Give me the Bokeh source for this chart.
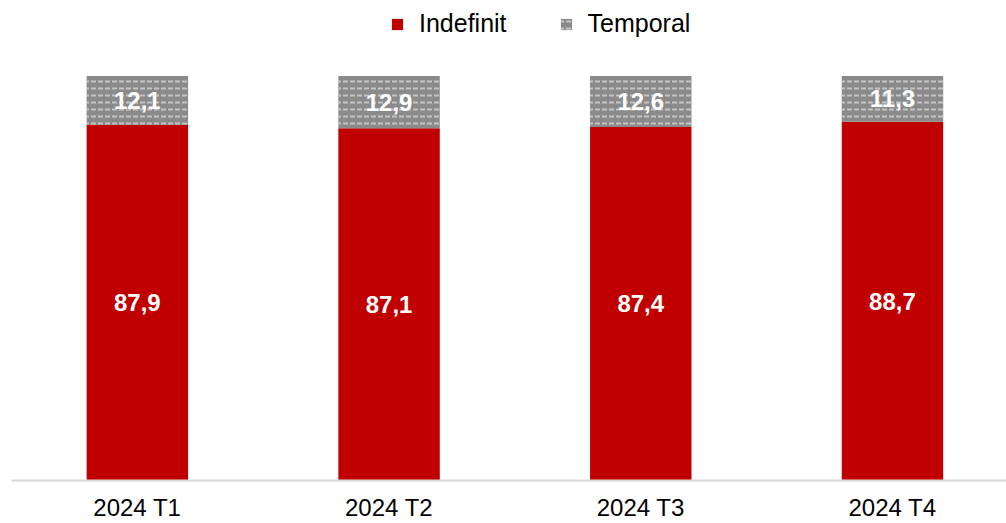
from bokeh.plotting import figure
from bokeh.models import ColumnDataSource, Range1d, FixedTicker, Legend, LegendItem, LabelSet
from bokeh.core.properties import value
from bokeh.embed import file_html
from bokeh.resources import INLINE

categories = ["2024 T1", "2024 T2", "2024 T3", "2024 T4"]
indefinit = [87.9, 87.1, 87.4, 88.7]
temporal = [12.1, 12.9, 12.6, 11.3]
series_names = ["Indefinit", "Temporal"]

xs = list(range(len(categories)))
top1 = indefinit
top2 = [a + b for a, b in zip(indefinit, temporal)]
src = ColumnDataSource(dict(
    x=xs, ind=indefinit, tmp=temporal, top1=top1, top2=top2,
    mid1=[v / 2 for v in indefinit],
    mid2=[a + b / 2 for a, b in zip(indefinit, temporal)],
    lab1=[f"{v:.1f}".replace(".", ",") for v in indefinit],
    lab2=[f"{v:.1f}".replace(".", ",") for v in temporal],
))

p = figure(width=1006, height=523, output_backend="svg", toolbar_location=None,
           x_range=Range1d(-0.5, 3.453), y_range=Range1d(0, 118.7),
           min_border_left=11, min_border_right=0, min_border_top=0, min_border_bottom=0)
p.outline_line_color = None
p.background_fill_color = "white"
p.border_fill_color = "white"
p.xgrid.grid_line_color = None
p.ygrid.grid_line_color = None
p.yaxis.visible = False

r1 = p.vbar(x="x", bottom=0, top="top1", width=0.403, source=src,
            fill_color="#C00000", line_color=None)
r2 = p.vbar(x="x", bottom="top1", top="top2", width=0.403, source=src,
            fill_color="#8a8a8a", line_color=None,
            hatch_pattern="horizontal_dash", hatch_color="#c4c4c4",
            hatch_scale=7, hatch_weight=2)

for mid, lab in (("mid1", "lab1"), ("mid2", "lab2")):
    p.add_layout(LabelSet(x="x", y=mid, text=lab, source=src, text_align="center",
                          text_baseline="middle", text_color="white",
                          text_font=value("Liberation Sans"),
                          text_font_style="bold", text_font_size="24px"))

ax = p.xaxis[0]
ax.ticker = FixedTicker(ticks=xs)
ax.major_label_overrides = {i: c for i, c in zip(xs, categories)}
ax.major_tick_line_color = None
ax.minor_tick_line_color = None
ax.axis_line_color = "#d9d9d9"
ax.axis_line_width = 2
ax.major_label_text_font = "Liberation Sans"
ax.major_label_text_font_size = "24px"
ax.major_label_text_color = "#000000"
ax.major_label_standoff = 7

legend = Legend(items=[LegendItem(label=series_names[0], renderers=[r1]),
                       LegendItem(label=series_names[1], renderers=[r2])],
                orientation="horizontal", location=(379, 442),
                border_line_color=None, background_fill_alpha=0,
                label_text_font="Liberation Sans", label_text_font_size="25px",
                label_text_color="#000000", glyph_width=14, glyph_height=14,
                spacing=52, padding=0, margin=0, label_standoff=15)
p.add_layout(legend)

open("out.html", "w").write(file_html(p, INLINE))
